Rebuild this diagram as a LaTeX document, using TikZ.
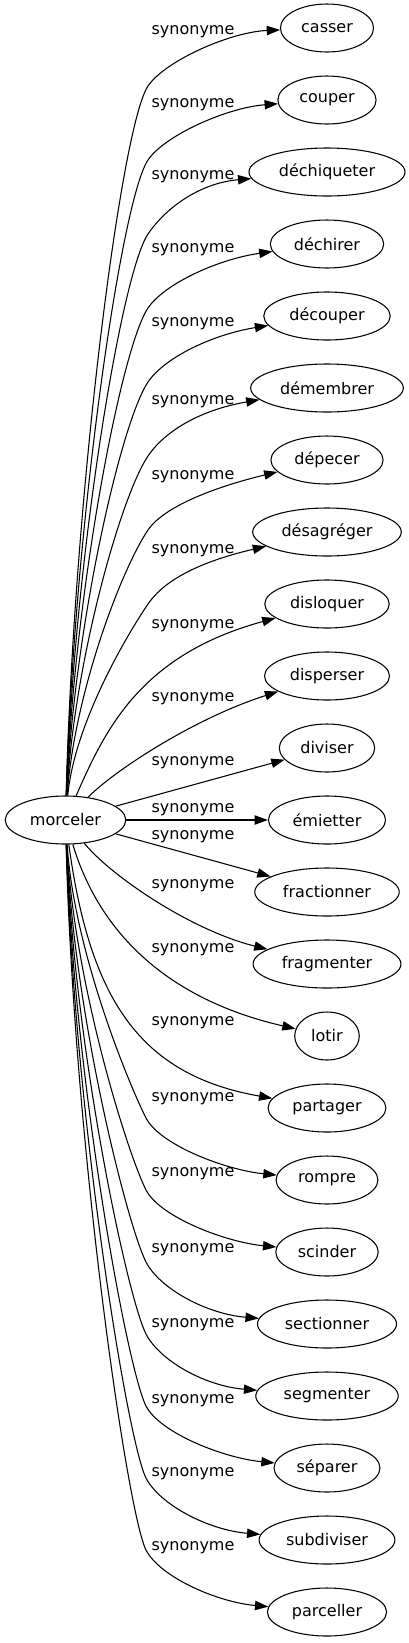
\documentclass[tikz,border=0pt]{standalone}
\usepackage{fontspec}
\setmainfont{DejaVu Sans}
\usetikzlibrary{arrows.meta,calc,shapes.geometric}

\begin{document}
\begin{tikzpicture}[x=0.75pt,y=-0.75pt]
        \tikzstyle{word}=[ellipse,draw=black,line width=0.8pt,minimum height=36pt,inner xsep=5.3pt,inner ysep=0pt,font=\fontsize{12pt}{14pt}\selectfont]
        \tikzstyle{rel}=[inner sep=0pt,font=\fontsize{12pt}{14pt}\selectfont]
        \tikzstyle{link}=[line width=0.8pt,-{Triangle[length=10pt,width=7pt]}]
        \useasboundingbox (0,0) rectangle (408,1643);

        \node[word] (morceler) at (65.5,820) {morceler};
        \foreach \name / \txt [count=\i from 0] in {casser/casser, couper/couper, dechiqueter/déchiqueter, dechirer/déchirer, decouper/découper, demembrer/démembrer, depecer/dépecer, desagreger/désagréger, disloquer/disloquer, disperser/disperser, diviser/diviser, emietter/émietter, fractionner/fractionner, fragmenter/fragmenter, lotir/lotir, partager/partager, rompre/rompre, scinder/scinder, sectionner/sectionner, segmenter/segmenter, separer/séparer, subdiviser/subdiviser, parceller/parceller}
            \node[word] (\name) at (327,{28+72*\i}) {\txt};

        \foreach \ly [count=\i from 0] in {32,105,177,250,324,402,477,551,626,699,763,810,837,886,950,1023,1099,1174,1250,1325,1401,1474,1548}
            \node[rel] (lab-\i) at (193,\ly) {synonyme};

        \foreach \name [count=\i from 0] in {casser,couper,dechiqueter,dechirer,decouper,demembrer,depecer,desagreger} {
            \pgfmathsetmacro\yy{28+72*\i}
            \pgfmathsetmacro\sy{\yy+58+2*\i}
            \pgfmathsetmacro\by{\yy+98+2*\i}
            \pgfmathsetmacro\cy{\yy+33+2*\i}
            \pgfmathsetmacro\ay{0.55*797+0.45*\by}
            \pgfmathsetmacro\dy{4+3.6*\i}
            \draw[link] (morceler) .. controls (74,\ay) and (121,\by) .. (148,\sy)
                .. controls (165,\cy) and ($(\name.west)+(-50,\dy)$) .. (\name);
        }
        \draw[link] (morceler) .. controls (105,730) and (140,655) .. (disloquer);
        \draw[link] (morceler) .. controls (115,770) and (195,718) .. (disperser);
        \draw[link] (morceler) -- (diviser);
        \draw[link] (morceler) -- (emietter);
        \draw[link] (morceler) -- (fractionner);
        \draw[link] (morceler) .. controls (110,875) and (190,930) .. (fragmenter);
        \draw[link] (morceler) .. controls (100,935) and (170,1000) .. (lotir);
        \draw[link] (morceler) .. controls (90,1000) and (140,1075) .. (partager);
        \foreach \name [count=\j from 16] in {rompre,scinder,sectionner,segmenter,separer,subdiviser,parceller} {
            \pgfmathsetmacro\yy{28+72*\j}
            \pgfmathsetmacro\sy{\yy-62}
            \pgfmathsetmacro\by{\yy-100}
            \pgfmathsetmacro\cy{\yy-35}
            \pgfmathsetmacro\ay{0.55*843+0.45*\by}
            \draw[link] (morceler) .. controls (74,\ay) and (127,\by) .. (146,\sy)
                .. controls (160,\cy) and ($(\name.west)+(-50,-10)$) .. (\name);
        }
\end{tikzpicture}
\end{document}
